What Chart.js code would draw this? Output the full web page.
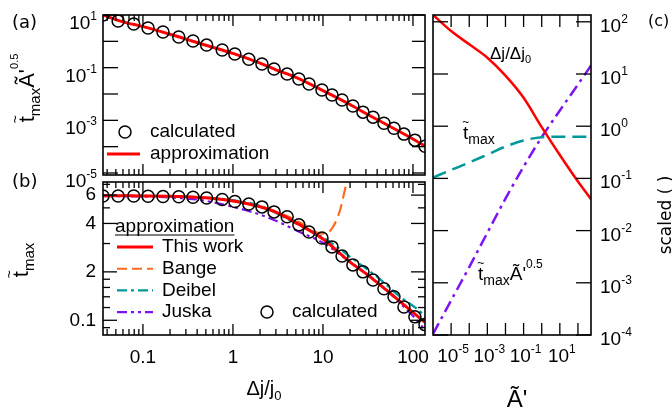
<!DOCTYPE html>
<html>
<head>
<meta charset="utf-8">
<script src="https://cdn.jsdelivr.net/npm/chart.js@4.4.1/dist/chart.umd.min.js"></script>
<style>
  body { margin: 0; background: #fff; }
  #wrap { position: relative; width: 672px; height: 414px; overflow: hidden; }
  #wrap canvas { position: absolute; left: 0; top: 0; }
</style>
</head>
<body>
<div id="wrap">
  <canvas id="ca" width="672" height="414"></canvas>
  <canvas id="cb" width="672" height="414"></canvas>
  <canvas id="cc" width="672" height="414"></canvas>
</div>
<script>
const FONT = '"Liberation Sans", Arial, sans-serif';

// panels (a) and (b): x = Δj/j0
const djCalc = [0.036, 0.053, 0.079, 0.114, 0.167, 0.25, 0.36, 0.51, 0.76, 1.05, 1.5, 2.1, 2.86, 4.0, 5.4, 7.0, 9.75, 12.6, 16.3, 21.5, 27.8, 36, 47.6, 61.5, 79.4, 105, 136];
const aCalc = [10, 5.9, 4.55, 3.2, 2.26, 1.46, 1.03, 0.72, 0.47, 0.33, 0.21, 0.137, 0.0885, 0.057, 0.037, 0.0238, 0.0141, 0.0091, 0.0059, 0.0035, 0.00205, 0.00132, 0.00078, 0.0005, 0.0003, 0.000177, 0.000104];
const bCalc = [5.93, 5.93, 5.92, 5.91, 5.89, 5.86, 5.82, 5.76, 5.64, 5.48, 5.28, 5.07, 4.72, 4.40, 3.92, 3.54, 3.25, 2.86, 2.51, 2.21, 2.0, 1.78, 1.57, 1.40, 1.21, 1.05, 0.94];

const djLine = [0.036, 0.06, 0.1, 0.2, 0.3, 0.5, 1, 2, 3, 5, 10, 20, 30, 50, 100, 136];
const aApprox = [10, 5.5, 3.63, 1.86, 1.22, 0.71, 0.347, 0.148, 0.083, 0.0427, 0.0135, 0.0040, 0.00182, 0.00071, 0.000195, 0.000105];
const bThisWork = [5.95, 5.94, 5.93, 5.9, 5.86, 5.78, 5.52, 5.08, 4.7, 4.05, 3.2, 2.3, 1.95, 1.55, 1.12, 0.97];

const djBange = [0.036, 0.1, 0.3, 1, 2, 4, 6, 8.8, 10.5, 12.9, 15.5, 17.5, 19, 20];
const bBange = [5.95, 5.93, 5.86, 5.55, 5.1, 4.45, 3.95, 3.5, 3.45, 3.8, 4.85, 6.46, 7.9, 9];
const djDeibel = [0.036, 0.1, 0.3, 0.6, 1, 2, 4.6, 11.1, 20, 40, 72, 125, 136];
const bDeibel = [5.95, 5.93, 5.87, 5.76, 5.58, 5.15, 4.1, 3.16, 2.48, 1.86, 1.40, 1.11, 1.05];
const djJuska = [0.036, 0.1, 0.2, 0.43, 1, 2.34, 5.5, 10, 20, 40, 72, 129, 136];
const bJuska = [5.92, 5.88, 5.8, 5.6, 5.07, 4.40, 3.54, 3.03, 2.31, 1.73, 1.28, 0.90, 0.86];

// panel (c): x = A'
const aPrime = [1e-6, 1e-5, 1e-4, 1e-3, 1e-2, 1e-1, 1, 10, 100, 525];
const cDj = [136, 66.5, 37, 20.5, 9.3, 3.5, 0.96, 0.28, 0.087, 0.040];
const cTmax = [0.104, 0.145, 0.201, 0.286, 0.407, 0.531, 0.617, 0.63, 0.63, 0.63];
const cTmaxA = [1.05e-4, 4.6e-4, 2.0e-3, 9.1e-3, 0.041, 0.168, 0.617, 2.0, 6.3, 14.5];

// tick values
const djTicks = [0.1, 1, 10, 100];
const djTickLabels = ['0.1', '1', '10', '100'];
const bTicks = [6, 4, 2, 1];
const bTickLabels = ['6', '4', '2', '0.1'];
const bMinor = [7, 5, 3, 1.8, 1.6, 1.4, 1.2, 0.9];
const aDecades = [10, 1, 0.1, 0.01, 1e-3, 1e-4, 1e-5];
const aLabelExp = [1, -1, -3, -5];
const cxDecades = [1e-5, 1e-4, 1e-3, 1e-2, 0.1, 1, 10, 100];
const cxLabelExp = [-5, -3, -1, 1];
const cyDecades = [100, 10, 1, 0.1, 0.01, 1e-3, 1e-4];
const cyLabelExp = [2, 1, 0, -1, -2, -3, -4];

const djMinor = [];
[0.01, 0.1, 1, 10].forEach(d => { for (let k = 2; k <= 9; k++) { const v = +(k * d).toPrecision(3); if (v >= 0.036 && v <= 136) djMinor.push(v); } });

const RED = '#ff0000', ORANGE = 'rgb(255,105,30)', TEAL = 'rgb(0,152,152)', PURPLE = 'rgb(125,20,240)';

function pts(xs, ys) { return xs.map((x, i) => ({ x: x, y: ys[i] })); }

function rich(ctx, x, y, parts, align, fam) {
  // parts: [text, size, dy, over-previous]
  const f = fam || FONT;
  let w = 0;
  parts.forEach(p => { ctx.font = p[1] + 'px ' + f; if (!p[3]) w += ctx.measureText(p[0]).width; });
  let cx = align === 'center' ? x - w / 2 : align === 'right' ? x - w : x;
  let px = cx, pw = 0;
  ctx.textAlign = 'left';
  ctx.textBaseline = 'alphabetic';
  parts.forEach(p => {
    ctx.font = p[1] + 'px ' + f;
    const tw = ctx.measureText(p[0]).width;
    if (p[3]) {
      ctx.fillText(p[0], px + pw / 2 - tw / 2, y + p[2]);
    } else {
      ctx.fillText(p[0], cx, y + p[2]);
      px = cx; pw = tw; cx += tw;
    }
  });
}

function pow10(ctx, x, yMid, e, align) {
  rich(ctx, x, yMid + 7, [['10', 19, 0], [String(e), 12, -9]], align);
}

// frame + inward ticks + power-of-ten labels
const frame = {
  id: 'frame',
  afterDraw(chart, args, o) {
    const ctx = chart.ctx, a = chart.chartArea;
    ctx.save();
    ctx.strokeStyle = '#000';
    ctx.lineWidth = 1.3;
    (o.marks || []).forEach(m => {
      const s = chart.scales[m.scale];
      [[m.major, m.majLen], [m.minor || [], m.minLen]].forEach(([vals, len]) => {
        vals.forEach(v => {
          const p = s.getPixelForValue(v);
          ctx.beginPath();
          if (m.side === 'top') { ctx.moveTo(p, a.top); ctx.lineTo(p, a.top + len); }
          if (m.side === 'bottom') { ctx.moveTo(p, a.bottom); ctx.lineTo(p, a.bottom - len); }
          if (m.side === 'left') { ctx.moveTo(a.left, p); ctx.lineTo(a.left + len, p); }
          if (m.side === 'right') { ctx.moveTo(a.right, p); ctx.lineTo(a.right - len, p); }
          ctx.stroke();
        });
      });
    });
    ctx.lineWidth = 1.6;
    ctx.strokeRect(a.left, a.top, a.right - a.left, a.bottom - a.top);
    ctx.fillStyle = '#000';
    (o.labels || []).forEach(l => {
      const s = chart.scales[l.scale];
      l.exps.forEach(e => {
        const p = s.getPixelForValue(Math.pow(10, e));
        if (l.side === 'left') pow10(ctx, a.left - 6, p + l.dy, e, 'right');
        if (l.side === 'right') pow10(ctx, a.right + 9, p + l.dy, e, 'left');
        if (l.side === 'bottom') pow10(ctx, p + 2, a.bottom + l.dy, e, 'center');
      });
    });
    ctx.restore();
  }
};

function lineSample(ctx, x1, x2, y, color, dash, w) {
  ctx.save();
  ctx.strokeStyle = color; ctx.lineWidth = w; ctx.setLineDash(dash);
  ctx.beginPath(); ctx.moveTo(x1, y); ctx.lineTo(x2, y); ctx.stroke();
  ctx.restore();
}
function ring(ctx, x, y) {
  ctx.save(); ctx.strokeStyle = '#000'; ctx.lineWidth = 1.5;
  ctx.beginPath(); ctx.arc(x, y, 6, 0, Math.PI * 2); ctx.stroke(); ctx.restore();
}

// titles, panel labels, legends, annotations
const notes = {
  id: 'notes',
  afterDraw(chart) {
    const ctx = chart.ctx;
    ctx.save();
    ctx.fillStyle = '#000';
    ctx.textAlign = 'left'; ctx.textBaseline = 'alphabetic';
    ctx.font = '18px "DejaVu Sans"';
    ctx.fillText('(a)', 12, 28);
    ctx.fillText('(b)', 12, 187);
    ctx.font = '16px "DejaVu Sans"';
    ctx.fillText('(c)', 648, 26);

    rich(ctx, 264, 395, [['Δj/j', 20, 0], ['0', 13, 5]], 'center');
    rich(ctx, 517, 407, [['Ã\'', 24, 0]], 'center');

    ctx.save(); ctx.translate(34, 88); ctx.rotate(-Math.PI / 2);
    rich(ctx, 0, 0, [['t', 22, 0], ['~', 14, -14, true], ['max', 15, 6], ['Ã', 22, 0], ['\'', 22, 0], ['0.5', 11, -16]], 'center');
    ctx.restore();
    ctx.save(); ctx.translate(28, 260); ctx.rotate(-Math.PI / 2);
    rich(ctx, 0, 0, [['t', 22, 0], ['~', 14, -14, true], ['max', 15, 6]], 'center');
    ctx.restore();
    ctx.save(); ctx.translate(671, 215); ctx.rotate(-Math.PI / 2);
    rich(ctx, 0, 0, [['scaled ( )', 17, 0]], 'center', '"DejaVu Sans"');
    ctx.restore();

    // legend (a)
    ring(ctx, 125, 132);
    ctx.font = '19px ' + FONT; ctx.textBaseline = 'middle';
    ctx.fillText('calculated', 150, 132);
    lineSample(ctx, 107, 140, 154, RED, [], 3);
    ctx.fillText('approximation', 150, 154);

    // legend (b)
    ctx.fillText('approximation', 115, 227);
    const uw = ctx.measureText('approximation').width;
    lineSample(ctx, 115, 115 + uw, 235, '#000', [], 1.2);
    const rows = [['This work', RED, [], 3], ['Bange', ORANGE, [10, 5], 2], ['Deibel', TEAL, [10, 4, 3, 4], 2.2], ['Juska', PURPLE, [10, 4, 3, 4, 3, 4], 2.2]];
    rows.forEach((r, i) => {
      const y = 247 + i * 21.7;
      lineSample(ctx, 117, 153, y, r[1], r[2], r[3]);
      ctx.fillText(r[0], 162, y);
    });
    ring(ctx, 267, 312);
    ctx.fillText('calculated', 292, 312);

    // annotations (c)
    rich(ctx, 490, 59, [['Δj/Δj', 17, 0], ['0', 11, 4]], 'left');
    rich(ctx, 463, 139, [['t', 19, 0], ['~', 12, -13, true], ['max', 14, 5]], 'left');
    rich(ctx, 478, 280, [['t', 19, 0], ['~', 12, -13, true], ['max', 14, 5], ['Ã', 19, 0], ['\'', 19, 0], ['0.5', 12, -12]], 'left');
    ctx.restore();
  }
};

const base = {
  responsive: false,
  animation: false,
  events: [],
  elements: { line: { cubicInterpolationMode: 'monotone' }, point: { radius: 0 } },
};

function hidden(min, max) { return { type: 'logarithmic', min: min, max: max, display: false }; }
const circleStyle = { showLine: false, pointStyle: 'circle', pointRadius: 6, pointBorderWidth: 1.5, pointBorderColor: '#000', pointBackgroundColor: 'rgba(0,0,0,0)' };

const DJMIN = 0.036, DJMAX = 136;

// panel (a)
new Chart(document.getElementById('ca'), {
  type: 'line',
  data: {
    datasets: [
      Object.assign({ label: 'calculated', data: pts(djCalc, aCalc) }, circleStyle),
      { label: 'approximation', data: pts(djLine, aApprox), borderColor: RED, borderWidth: 3 },
    ]
  },
  options: Object.assign({}, base, {
    layout: { padding: { left: 103, top: 15, right: 247, bottom: 239 } },
    scales: { x: hidden(DJMIN, DJMAX), y: hidden(8.4e-6, 10) },
    plugins: {
      legend: { display: false }, tooltip: { enabled: false },
      frame: {
        marks: [
          { scale: 'x', side: 'top', major: djTicks, minor: djMinor, majLen: 11, minLen: 6 },
          { scale: 'x', side: 'bottom', major: djTicks, minor: djMinor, majLen: 11, minLen: 6 },
          { scale: 'y', side: 'left', major: aDecades, majLen: 15 },
          { scale: 'y', side: 'right', major: aDecades, majLen: 13 },
        ],
        labels: [{ scale: 'y', side: 'left', exps: aLabelExp, dy: 7 }]
      }
    }
  }),
  plugins: [frame]
});

// panel (b)
new Chart(document.getElementById('cb'), {
  type: 'line',
  data: {
    datasets: [
      Object.assign({ label: 'calculated', data: pts(djCalc, bCalc) }, circleStyle),
      { label: 'This work', data: pts(djLine, bThisWork), borderColor: RED, borderWidth: 3 },
      { label: 'Deibel', data: pts(djDeibel, bDeibel), borderColor: TEAL, borderWidth: 2.2, borderDash: [10, 4, 3, 4] },
      { label: 'Bange', data: pts(djBange, bBange), borderColor: ORANGE, borderWidth: 2.2, borderDash: [12, 6] },
      { label: 'Juska', data: pts(djJuska, bJuska), borderColor: PURPLE, borderWidth: 2.2, borderDash: [10, 4, 3, 4, 3, 4] },
    ]
  },
  options: Object.assign({}, base, {
    layout: { padding: { left: 53, top: 182, right: 247, bottom: 39 } },
    scales: {
      x: {
        type: 'logarithmic', min: DJMIN, max: DJMAX, position: 'bottom',
        afterFit: s => { s.height = 40; },
        afterBuildTicks: s => { s.ticks = djTicks.map(v => ({ value: v })); },
        ticks: { callback: (v, i) => djTickLabels[i], color: '#000', font: { family: FONT, size: 19 }, padding: 11, autoSkip: false, maxRotation: 0 },
        grid: { display: false, drawTicks: false }, border: { display: false }
      },
      y: {
        type: 'logarithmic', min: 0.81, max: 7.24, position: 'left',
        afterFit: s => { s.width = 50; },
        afterBuildTicks: s => { s.ticks = bTicks.map(v => ({ value: v })); },
        ticks: { callback: (v, i) => bTickLabels[i], color: '#000', font: { family: FONT, size: 19 }, padding: 7, autoSkip: false },
        grid: { display: false, drawTicks: false }, border: { display: false }
      }
    },
    plugins: {
      legend: { display: false }, tooltip: { enabled: false },
      frame: {
        marks: [
          { scale: 'x', side: 'top', major: djTicks, minor: djMinor, majLen: 11, minLen: 6 },
          { scale: 'x', side: 'bottom', major: djTicks, minor: djMinor, majLen: 11, minLen: 6 },
          { scale: 'y', side: 'left', major: bTicks, minor: bMinor, majLen: 14, minLen: 7 },
          { scale: 'y', side: 'right', major: bTicks, minor: bMinor, majLen: 14, minLen: 7 },
        ]
      }
    }
  }),
  plugins: [frame]
});

// panel (c)
new Chart(document.getElementById('cc'), {
  type: 'line',
  data: {
    datasets: [
      { label: 'Δj/Δj0', data: pts(aPrime, cDj), borderColor: RED, borderWidth: 2.5 },
      { label: 'tmax', data: pts(aPrime, cTmax), borderColor: TEAL, borderWidth: 2.5, borderDash: [14, 7] },
      { label: 'tmax A^0.5', data: pts(aPrime, cTmaxA), borderColor: PURPLE, borderWidth: 2.5, borderDash: [12, 5, 3, 5] },
    ]
  },
  options: Object.assign({}, base, {
    layout: { padding: { left: 433, top: 15, right: 81, bottom: 79 } },
    scales: { x: hidden(1e-6, 525), y: hidden(1e-4, 135) },
    plugins: {
      legend: { display: false }, tooltip: { enabled: false },
      frame: {
        marks: [
          { scale: 'x', side: 'top', major: cxDecades, majLen: 12 },
          { scale: 'x', side: 'bottom', major: cxDecades, majLen: 12 },
          { scale: 'y', side: 'left', major: cyDecades, majLen: 15 },
          { scale: 'y', side: 'right', major: cyDecades, majLen: 15 },
        ],
        labels: [
          { scale: 'y', side: 'right', exps: cyLabelExp, dy: 3 },
          { scale: 'x', side: 'bottom', exps: cxLabelExp, dy: 20 },
        ]
      }
    }
  }),
  plugins: [frame, notes]
});
</script>
</body>
</html>
